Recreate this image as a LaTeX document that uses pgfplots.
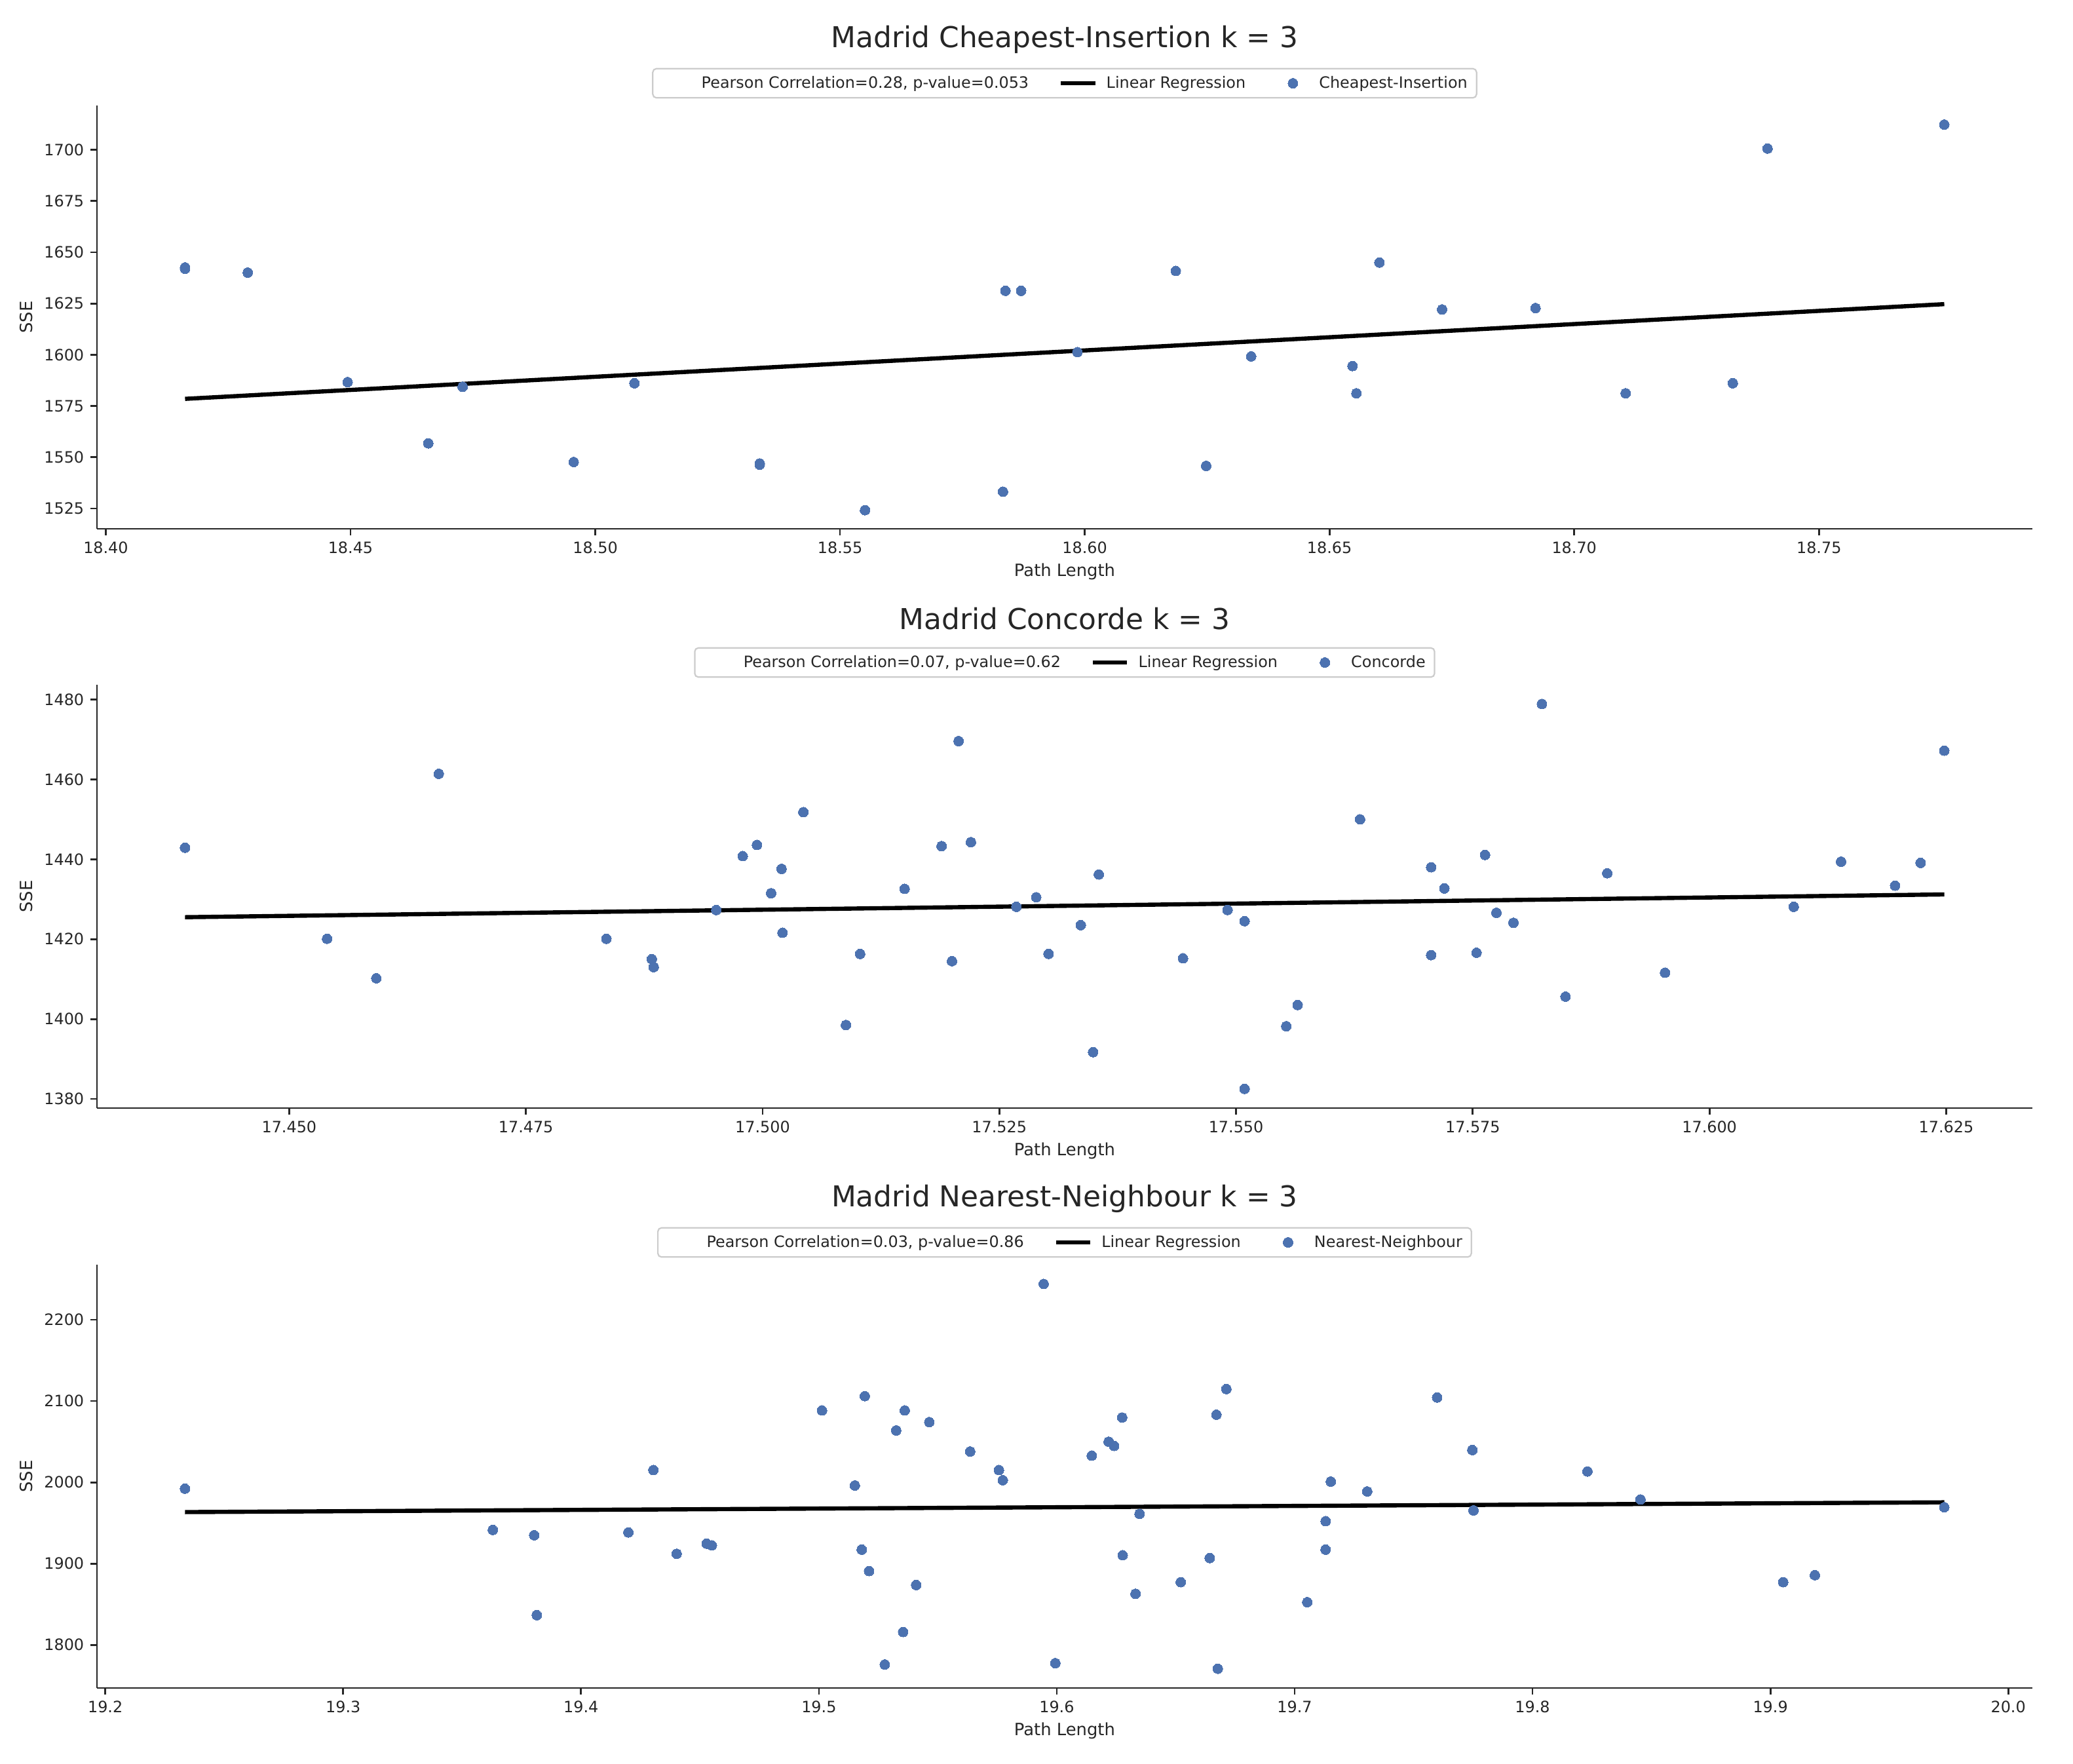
\documentclass[border=0pt]{standalone}
\usepackage{fontspec}
\setmainfont{DejaVu Sans}
\usepackage{pgfplots}
\pgfplotsset{compat=1.18}

\definecolor{ink}{HTML}{262626}
\definecolor{sblue}{HTML}{4C72B0}
\definecolor{legframe}{HTML}{CCCCCC}

% one reference pixel = 0.36pt
\pgfplotsset{
  madrid/.style={
    scale only axis, width=1063.44pt, height=232.56pt,
    anchor=north west,
    axis x line*=bottom, axis y line*=left,
    axis line style={ink, line width=1pt, -},
    tick align=outside, major tick length=3.6pt,
    tick style={ink, line width=1pt},
    tick label style={font=\fontsize{8.6}{10}\selectfont, text=ink},
    /pgf/number format/assume math mode=true,
    /pgf/number format/1000 sep={},
    scaled ticks=false,
    xlabel={Path Length}, ylabel={SSE},
    label style={font=\fontsize{9.3}{11}\selectfont, text=ink},
    xlabel style={at={(axis description cs:0.5,-0.1006)}, anchor=center},
    ylabel style={at={(axis description cs:-0.0366,0.5)}, anchor=center},
    % the default title style carries yshift=6pt; cancel it
    title style={at={(axis description cs:0.5,1.156)}, anchor=center,
      yshift=-6pt, font=\fontsize{15.8}{18}\selectfont, text=ink},
    legend columns=3,
    legend style={at={(0.5,1.0526)}, anchor=center, draw=legframe,
      line width=0.8pt, rounded corners=2pt, text=ink,
      font=\fontsize{8.6}{10}\selectfont,
      /tikz/every even column/.append style={column sep=14.6pt},
      /tikz/every odd column/.append style={column sep=3pt}},
  },
  dots/.style={only marks, mark=*, mark size=2.7pt, color=sblue,
    mark options={solid, draw=sblue, fill=sblue, line width=0pt}},
  fit/.style={black, line width=2.3pt},
  hlegend/.style={legend image code/.code={
    \draw[##1] plot coordinates {(0cm,0cm) (0.66cm,0cm)};}},
  mlegend/.style={legend image code/.code={
    \path[draw=none, fill=none] (0cm,0cm) -- (0.66cm,0cm);
    \draw[##1] plot coordinates {(0.33cm,0cm)};}},
  blanklegend/.style={legend image code/.code={
    \path[draw=none, fill=none] (0cm,0cm) -- (0.66cm,0cm);}},
}

\begin{document}
\begin{tikzpicture}
\path (0,0) rectangle (1139.04pt,-968.76pt);

% ---------- Cheapest-Insertion
\begin{axis}[madrid, at={(53.28pt,-57.96pt)},
    title={Madrid Cheapest-Insertion k = 3},
    xmin=18.3982, xmax=18.7936, ymin=1515.1, ymax=1721.6,
    xtick={18.40,18.45,18.50,18.55,18.60,18.65,18.70,18.75},
    ytick={1525,1550,1575,1600,1625,1650,1675,1700},
    xticklabel style={/pgf/number format/.cd, fixed, fixed zerofill, precision=2},
]
\addlegendimage{blanklegend}
\addlegendentry{Pearson Correlation=0.28, p-value=0.053}
\addlegendimage{fit, hlegend}
\addlegendentry{Linear Regression}
\addlegendimage{dots, mlegend}
\addlegendentry{Cheapest-Insertion}
\addplot[dots, forget plot] coordinates {
(18.4162,1642.0) (18.4162,1642.6) (18.4290,1640.1) (18.4494,1586.7)
(18.4659,1556.8) (18.4729,1584.4) (18.4956,1547.7) (18.5080,1586.1)
(18.5336,1546.4) (18.5336,1547.0) (18.5551,1524.2) (18.5833,1533.2)
(18.5838,1631.2) (18.5870,1631.2) (18.5985,1601.3) (18.6186,1640.9)
(18.6248,1545.8) (18.6340,1599.2) (18.6547,1594.5) (18.6555,1581.2)
(18.6602,1645.0) (18.6730,1622.1) (18.6921,1622.8) (18.7105,1581.2)
(18.7324,1586.1) (18.7395,1700.6) (18.7756,1712.3)
};
\addplot[fit, forget plot] coordinates {(18.4162,1578.5) (18.7756,1624.7)};
\end{axis}

% ---------- Concorde
\begin{axis}[madrid, at={(53.28pt,-376.2pt)},
    title={Madrid Concorde k = 3},
    xmin=17.4297, xmax=17.6341, ymin=1377.7, ymax=1483.7,
    xtick={17.450,17.475,17.500,17.525,17.550,17.575,17.600,17.625},
    ytick={1380,1400,1420,1440,1460,1480},
    xticklabel style={/pgf/number format/.cd, fixed, fixed zerofill, precision=3},
]
\addlegendimage{blanklegend}
\addlegendentry{Pearson Correlation=0.07, p-value=0.62}
\addlegendimage{fit, hlegend}
\addlegendentry{Linear Regression}
\addlegendimage{dots, mlegend}
\addlegendentry{Concorde}
\addplot[dots, forget plot] coordinates {
(17.4390,1442.9) (17.4540,1420.1) (17.4592,1410.2) (17.4658,1461.4)
(17.4835,1420.1) (17.4883,1415.0) (17.4885,1413.0) (17.4951,1427.3)
(17.4979,1440.8) (17.4994,1443.6) (17.5009,1431.5) (17.5020,1437.6)
(17.5021,1421.6) (17.5043,1451.8) (17.5088,1398.5) (17.5103,1416.3)
(17.5150,1432.6) (17.5189,1443.3) (17.5200,1414.5) (17.5207,1469.6)
(17.5220,1444.3) (17.5268,1428.1) (17.5289,1430.5) (17.5302,1416.3)
(17.5336,1423.5) (17.5349,1391.7) (17.5355,1436.2) (17.5444,1415.2)
(17.5491,1427.3) (17.5509,1382.5) (17.5509,1424.5) (17.5553,1398.2)
(17.5565,1403.5) (17.5631,1450.0) (17.5706,1438.0) (17.5706,1416.0)
(17.5720,1432.7) (17.5754,1416.6) (17.5763,1441.1) (17.5775,1426.6)
(17.5793,1424.1) (17.5823,1478.9) (17.5848,1405.6) (17.5892,1436.5)
(17.5953,1411.6) (17.6089,1428.1) (17.6139,1439.4) (17.6196,1433.4)
(17.6223,1439.1) (17.6248,1467.2)
};
\addplot[fit, forget plot] coordinates {(17.4390,1425.5) (17.6248,1431.2)};
\end{axis}

% ---------- Nearest-Neighbour
\begin{axis}[madrid, at={(53.28pt,-694.8pt)},
    title={Madrid Nearest-Neighbour k = 3},
    xmin=19.1965, xmax=20.0101, ymin=1747.0, ymax=2267.7,
    xtick={19.2,19.3,19.4,19.5,19.6,19.7,19.8,19.9,20.0},
    ytick={1800,1900,2000,2100,2200},
    xticklabel style={/pgf/number format/.cd, fixed, fixed zerofill, precision=1},
]
\addlegendimage{blanklegend}
\addlegendentry{Pearson Correlation=0.03, p-value=0.86}
\addlegendimage{fit, hlegend}
\addlegendentry{Linear Regression}
\addlegendimage{dots, mlegend}
\addlegendentry{Nearest-Neighbour}
\addplot[dots, forget plot] coordinates {
(19.2335,1992.2) (19.3629,1941.4) (19.3803,1934.9) (19.3814,1836.6)
(19.4199,1938.4) (19.4304,2015.1) (19.4402,1912.1) (19.4528,1924.6)
(19.4550,1922.4) (19.5013,2088.4) (19.5151,1996.1) (19.5180,1917.2)
(19.5193,2106.0) (19.5211,1890.9) (19.5277,1775.9) (19.5325,2063.8)
(19.5354,1815.9) (19.5361,2088.4) (19.5409,1873.7) (19.5464,2074.1)
(19.5636,2037.9) (19.5757,2015.1) (19.5773,2002.6) (19.5945,2244.0)
(19.5994,1777.6) (19.6147,2032.8) (19.6218,2050.0) (19.6241,2044.8)
(19.6275,2079.7) (19.6277,1910.3) (19.6331,1862.9) (19.6348,1961.2)
(19.6521,1877.2) (19.6643,1906.9) (19.6671,2083.2) (19.6677,1770.7)
(19.6713,2114.7) (19.7053,1852.6) (19.7130,1952.2) (19.7130,1917.2)
(19.7152,2000.9) (19.7305,1988.8) (19.7599,2104.3) (19.7747,2039.7)
(19.7752,1965.5) (19.8231,2013.4) (19.8454,1978.9) (19.9054,1877.2)
(19.9187,1885.8) (19.9731,1969.4)
};
\addplot[fit, forget plot] coordinates {(19.2335,1963.4) (19.9731,1975.4)};
\end{axis}
\end{tikzpicture}
\end{document}
